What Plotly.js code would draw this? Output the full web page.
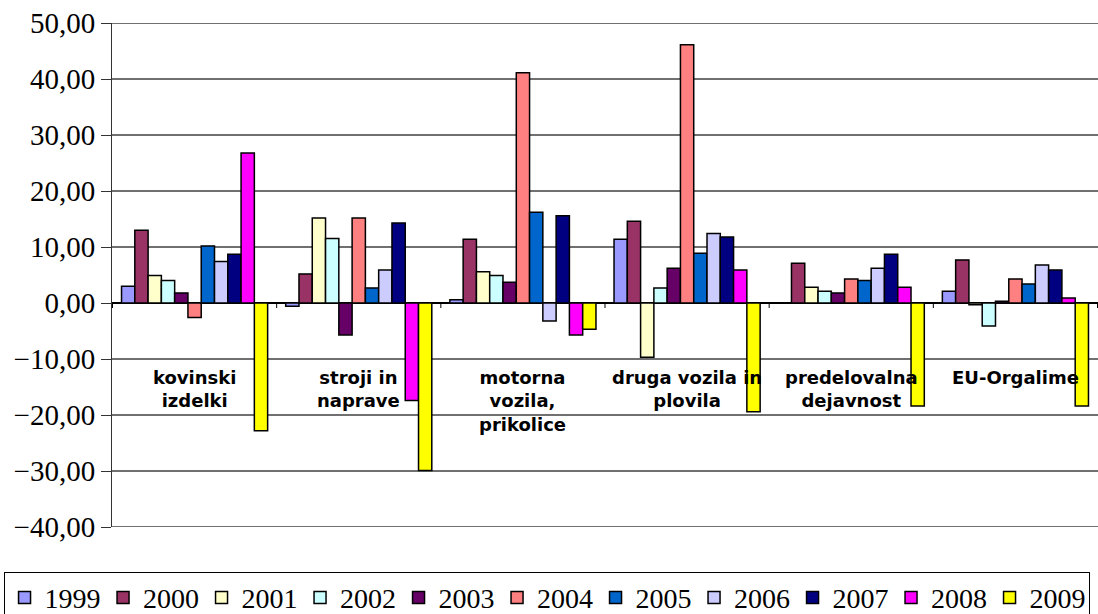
<!DOCTYPE html>
<html>
<head>
<meta charset="utf-8">
<script src="https://cdn.plot.ly/plotly-3.0.1.min.js"></script>
<style>html,body{margin:0;padding:0;background:#fff;}#chart{width:1098px;height:614px;}</style>
</head>
<body>
<div id="chart"></div>
<script>
var categories = ["kovinski<br>izdelki", "stroji in<br>naprave", "motorna<br>vozila,<br>prikolice", "druga vozila in<br>plovila", "predelovalna<br>dejavnost", "EU-Orgalime"];
var years = ["1999", "2000", "2001", "2002", "2003", "2004", "2005", "2006", "2007", "2008", "2009"];
var s1999 = [3.0, -0.6, 0.6, 11.4, null, 2.1];
var s2000 = [13.0, 5.2, 11.4, 14.6, 7.1, 7.7];
var s2001 = [4.9, 15.2, 5.6, -9.7, 2.8, -0.3];
var s2002 = [4.0, 11.5, 4.9, 2.7, 2.1, -4.1];
var s2003 = [1.8, -5.7, 3.7, 6.2, 1.8, 0.3];
var s2004 = [-2.6, 15.2, 41.1, 46.1, 4.3, 4.3];
var s2005 = [10.2, 2.7, 16.2, 8.9, 4.0, 3.4];
var s2006 = [7.4, 5.9, -3.2, 12.4, 6.2, 6.8];
var s2007 = [8.7, 14.3, 15.6, 11.8, 8.7, 5.9];
var s2008 = [26.8, -17.4, -5.7, 5.9, 2.8, 0.9];
var s2009 = [-22.8, -29.9, -4.7, -19.4, -18.4, -18.4];
var colors = ["#9999FF", "#993366", "#FFFFCC", "#CCFFFF", "#660066", "#FF8080", "#0066CC", "#CCCCFF", "#000080", "#FF00FF", "#FFFF00"];
var yRange = [-40, 50];
var yStep = 10;

var series = [s1999, s2000, s2001, s2002, s2003, s2004, s2005, s2006, s2007, s2008, s2009];
var traces = series.map(function (vals, i) {
  return {
    type: "bar",
    name: years[i],
    x: categories,
    y: vals,
    marker: {color: colors[i], line: {color: "#000", width: 1.5}},
    hoverinfo: "x+y+name"
  };
});

// category labels just below the zero line
var annotations = categories.map(function (c) {
  return {
    x: c, xref: "x", y: 0, yref: "y",
    text: c, showarrow: false,
    xanchor: "center", yanchor: "top", yshift: -62,
    font: {family: "DejaVu Sans, Verdana, sans-serif", size: 18, color: "#000", weight: "bold"}
  };
});

var shapes = [];
// horizontal gridlines at each y tick (behind the bars)
for (var v = yRange[0]; v <= yRange[1]; v += yStep) {
  if (v === 0) continue;
  shapes.push({
    type: "line", xref: "paper", yref: "y", layer: "between",
    x0: 0, x1: 1, y0: v, y1: v,
    line: {color: "#404040", width: 1.6}
  });
}
// small tick marks at category boundaries on the zero line
for (var i = 0; i <= categories.length; i++) {
  shapes.push({
    type: "line", xref: "x", yref: "y",
    x0: i - 0.5, x1: i - 0.5,
    ysizemode: "pixel", yanchor: 0, y0: 0, y1: -5,
    line: {color: "#000", width: 1}
  });
}

var layout = {
  width: 1098,
  height: 614,
  margin: {l: 112, r: 0, t: 23, b: 87, autoexpand: false},
  paper_bgcolor: "#fff",
  plot_bgcolor: "#fff",
  barmode: "group",
  bargap: 0.11,
  bargroupgap: 0,
  separators: ",.",
  showlegend: true,
  legend: {
    orientation: "h",
    x: -0.110, xanchor: "left",
    y: -0.0887, yanchor: "top",
    bordercolor: "#000", borderwidth: 1,
    font: {family: "Liberation Serif, Times New Roman, serif", size: 28, color: "#000"},
    entrywidth: 53.5, entrywidthmode: "pixels",
    traceorder: "normal"
  },
  annotations: annotations,
  shapes: shapes,
  xaxis: {
    type: "category",
    showline: false,
    ticks: "",
    showticklabels: false,
    showgrid: false,
    zeroline: false
  },
  yaxis: {
    range: yRange,
    dtick: yStep,
    tick0: 0,
    tickformat: ".2f",
    showline: true, linecolor: "#333", linewidth: 1,
    ticks: "outside", ticklen: 10, tickcolor: "#333",
    showgrid: false,
    zeroline: true, zerolinecolor: "#000", zerolinewidth: 1.5,
    tickfont: {family: "Liberation Serif, Times New Roman, serif", size: 29, color: "#000"}
  }
};

Plotly.newPlot("chart", traces, layout, {displayModeBar: false, staticPlot: true});
</script>
</body>
</html>
